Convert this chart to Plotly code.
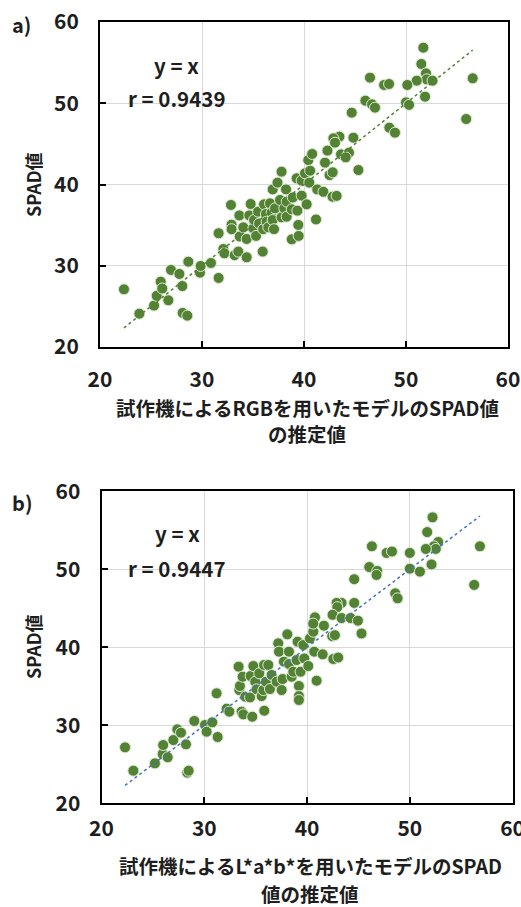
import plotly.graph_objects as go

# ---------------- data ----------------
# Panel a) RGB model estimate vs SPAD
xa = [22.35, 23.86, 25.3, 25.56, 25.95, 26.1, 26.7, 26.96, 27.78, 28.07, 28.1, 28.56, 28.66,
      29.8, 29.87, 30.88, 31.63, 31.63, 32.09, 32.2, 32.84, 32.9, 32.9, 33.2, 33.56, 33.66,
      33.7, 34.05, 34.38, 34.38, 34.64, 34.77, 35.03, 35.1, 35.3, 35.5, 35.6, 35.95, 36.0,
      36.08, 36.27, 36.34, 36.5, 36.67, 36.83, 36.93, 36.93, 37.06, 37.16, 37.4, 37.65, 37.8,
      37.8, 38.07, 38.24, 38.3, 38.3, 38.8, 38.8, 38.9, 39.28, 39.35, 39.44, 39.48, 39.77,
      39.77, 40.1, 40.26, 40.42, 40.52, 40.6, 40.8, 41.18, 41.3, 41.9, 42.06, 42.3, 42.5,
      51.7, 51.5, 51.96, 52.03, 52.6, 51.05, 50.13, 51.87, 50.0, 50.3, 56.54, 55.9, 46.47,
      47.85, 48.34, 46.02, 46.67, 46.96, 44.68, 48.37, 48.92, 44.84, 43.47, 42.88, 43.04,
      43.63, 44.41, 44.09, 45.33, 42.81, 42.8, 43.2]
ya = [27.1, 24.1, 25.1, 26.3, 28.04, 27.2, 25.75, 29.48, 28.99, 27.5, 24.2, 23.86, 30.5,
      29.15, 29.97, 30.34, 28.5, 34.0, 32.06, 31.53, 37.48, 35.06, 34.5, 31.3, 31.74, 36.2,
      33.6, 34.73, 33.3, 31.04, 36.2, 37.6, 34.6, 35.63, 33.67, 36.66, 35.2, 31.74, 34.5,
      37.56, 36.37, 35.43, 34.73, 37.68, 36.54, 35.63, 39.4, 34.5, 37.07, 40.23, 38.1, 41.58,
      35.96, 37.07, 39.4, 36.04, 37.9, 36.95, 33.25, 38.4, 40.76, 36.78, 35.02, 33.67, 38.63,
      40.48, 41.38, 37.56, 43.0, 40.23, 41.7, 43.76, 35.7, 39.4, 39.1, 42.69, 44.17, 41.17,
      56.84, 54.83, 53.68, 52.94, 52.78, 52.78, 52.25, 50.81, 50.11, 49.8, 53.07, 48.06, 53.15,
      52.25, 52.37, 50.32, 49.87, 49.46, 48.84, 46.99, 46.38, 45.76, 45.89, 45.68, 45.15,
      43.71, 43.92, 43.34, 41.78, 41.5, 38.5, 38.6]

# Panel b) L*a*b* model estimate vs SPAD
xb = [22.29, 23.1, 25.2, 25.95, 26.0, 26.44, 26.99, 27.38, 27.73, 28.22, 28.35, 28.48, 29.03,
      30.07, 30.23, 30.78, 31.2, 31.3, 32.18, 32.44, 33.34, 33.41, 33.47, 33.73, 33.63, 33.8,
      34.0, 34.45, 34.51, 34.67, 34.77, 34.96, 35.09, 35.35, 35.58, 35.74, 35.81, 35.84, 36.0,
      36.23, 36.39, 36.55, 37.04, 37.2, 37.27, 37.53, 37.62, 37.75, 38.08, 38.24, 38.24, 38.5,
      38.66, 38.98, 39.08, 39.21, 39.21, 39.21, 39.37, 39.63, 39.73, 40.12, 40.28, 40.61, 40.7,
      40.77, 40.93, 41.52, 41.64,
      52.21, 51.69, 52.76, 52.34, 52.53, 51.56, 50.0, 52.11, 50.0, 50.98, 56.82, 56.26, 46.31,
      47.74, 48.26, 46.05, 46.83, 46.76, 44.59, 48.58, 48.81, 44.59, 43.36, 42.87, 42.94,
      42.48, 43.36, 44.23, 44.95, 45.3, 42.45, 42.71, 42.55, 43.03, 40.6]
yb = [27.17, 24.18, 25.12, 26.32, 27.47, 25.9, 28.11, 29.48, 29.05, 27.56, 23.93, 24.18, 30.55,
      30.04, 29.18, 30.38, 34.1, 28.5, 32.13, 31.75, 37.52, 34.52, 35.04, 36.23, 31.75, 31.4,
      33.67, 33.58, 36.32, 31.1, 37.6, 35.59, 34.61, 36.66, 33.75, 34.52, 37.73, 31.87, 35.59,
      37.73, 34.65, 36.45, 35.59, 40.51, 39.44, 34.52, 35.93, 38.16, 41.66, 39.44, 37.86, 36.23,
      36.87, 38.37, 40.72, 35.04, 33.75, 33.24, 36.87, 40.29, 38.58, 37.6, 41.15, 42.0, 39.44,
      43.84, 35.72, 39.1, 42.77,
      56.66, 54.77, 53.5, 52.95, 52.61, 52.61, 52.1, 50.63, 50.08, 49.7, 52.95, 48.0, 52.95,
      52.1, 52.28, 50.29, 49.79, 49.28, 48.73, 46.92, 46.28, 45.69, 45.69, 45.69, 45.15,
      44.17, 43.75, 43.75, 43.41, 41.77, 41.43, 41.56, 38.5, 38.69, 43.04]

ticks = [20, 30, 40, 50, 60]
tick_labels = ["20", "30", "40", "50", "60"]
r_a = "r = 0.9439"
r_b = "r = 0.9447"
eq_text = "y = x"
xtitle_a = ["試作機によるRGBを用いたモデルのSPAD値", "の推定値"]
xtitle_b = ["試作機によるL*a*b*を用いたモデルのSPAD", "値の推定値"]
ytitle = "SPAD値"
panel_labels = ["a)", "b)"]

# ---------------- figure ----------------
W, H = 521, 907
FONT = "Noto Sans CJK JP"
MARK = "#548235"
TXT = "#1e1e1e"

fig = go.Figure()

def add_panel(x, y, xa_name, ya_name, line_color):
    fig.add_trace(go.Scatter(
        x=x, y=y, mode="markers", xaxis=xa_name, yaxis=ya_name,
        marker=dict(size=11, color=MARK, line=dict(width=1, color="#dcebd2")),
        showlegend=False, hoverinfo="skip"))
    lo, hi = min(x), max(x)
    fig.add_trace(go.Scatter(
        x=[lo, hi], y=[lo, hi], mode="lines", xaxis=xa_name, yaxis=ya_name,
        line=dict(color=line_color, width=1.5, dash="dot"),
        showlegend=False, hoverinfo="skip"))

add_panel(xa, ya, "x", "y", "#548235")
add_panel(xb, yb, "x2", "y2", "#4472C4")

def px_x(p):
    return p / W

def px_y(p):
    return 1 - p / H

axis_common = dict(
    range=[20, 60], tickvals=ticks, ticktext=tick_labels,
    showgrid=True, gridcolor="#d9d9d9", gridwidth=1,
    showline=True, linecolor="black", linewidth=2, mirror=True,
    ticks="inside", ticklen=6, tickwidth=2, tickcolor="black",
    zeroline=False, automargin=False, ticklabeloverflow="allow",
    tickfont=dict(family=FONT, size=21, color=TXT, weight="bold"),
    fixedrange=True,
)

fig.update_layout(
    width=W, height=H,
    margin=dict(l=0, r=0, t=0, b=0, autoexpand=False),
    paper_bgcolor="white", plot_bgcolor="white",
    xaxis=dict(axis_common, domain=[px_x(100), px_x(508)], anchor="y",
               ticklabelstandoff=13),
    yaxis=dict(axis_common, domain=[px_y(347), px_y(22)], anchor="x",
               ticklabelstandoff=15),
    xaxis2=dict(axis_common, domain=[px_x(101.5), px_x(512.6)], anchor="y2",
                ticklabelstandoff=5),
    yaxis2=dict(axis_common, domain=[px_y(803.3), px_y(491.3)], anchor="x2",
                ticklabelstandoff=15),
)

ann = []
tfont = dict(family=FONT, size=20, color=TXT, weight="bold")
xtfont = dict(family=FONT, size=19.5, color=TXT, weight="bold")
# panel labels
ann.append(dict(text=panel_labels[0], x=px_x(21), y=px_y(25), xref="paper", yref="paper",
                showarrow=False, font=tfont, xanchor="center", yanchor="middle"))
ann.append(dict(text=panel_labels[1], x=px_x(22), y=px_y(502), xref="paper", yref="paper",
                showarrow=False, font=tfont, xanchor="center", yanchor="middle"))
# equations
efont = dict(family=FONT, size=20.5, color=TXT, weight="bold")
ann.append(dict(text=eq_text, x=px_x(176), y=px_y(65), xref="paper", yref="paper",
                showarrow=False, font=efont, xanchor="center", yanchor="middle"))
ann.append(dict(text=r_a, x=px_x(126), y=px_y(98), xref="paper", yref="paper",
                showarrow=False, font=efont, xanchor="left", yanchor="middle"))
ann.append(dict(text=eq_text, x=px_x(177), y=px_y(533), xref="paper", yref="paper",
                showarrow=False, font=efont, xanchor="center", yanchor="middle"))
ann.append(dict(text=r_b, x=px_x(126), y=px_y(568), xref="paper", yref="paper",
                showarrow=False, font=efont, xanchor="left", yanchor="middle"))
# x titles
for txt, yy, xx in [(xtitle_a[0], 407.5, 307), (xtitle_a[1], 434, 307),
                    (xtitle_b[0], 865, 310), (xtitle_b[1], 893.5, 310)]:
    ann.append(dict(text=txt, x=px_x(xx), y=px_y(yy), xref="paper", yref="paper",
                    showarrow=False, font=xtfont, xanchor="center", yanchor="middle",
                    borderpad=0))
# y titles
for yy in [185, 647]:
    ann.append(dict(text=ytitle, x=px_x(33), y=px_y(yy), xref="paper", yref="paper",
                    showarrow=False, font=dict(family=FONT, size=18, color=TXT, weight="bold"),
                    textangle=-90, xanchor="center", yanchor="middle"))

fig.update_layout(annotations=ann)
fig.write_html(
    "out.html",
    config={"displayModeBar": False, "staticPlot": True},
    post_script="document.body.style.margin='0';document.body.style.overflow='hidden';",
)
